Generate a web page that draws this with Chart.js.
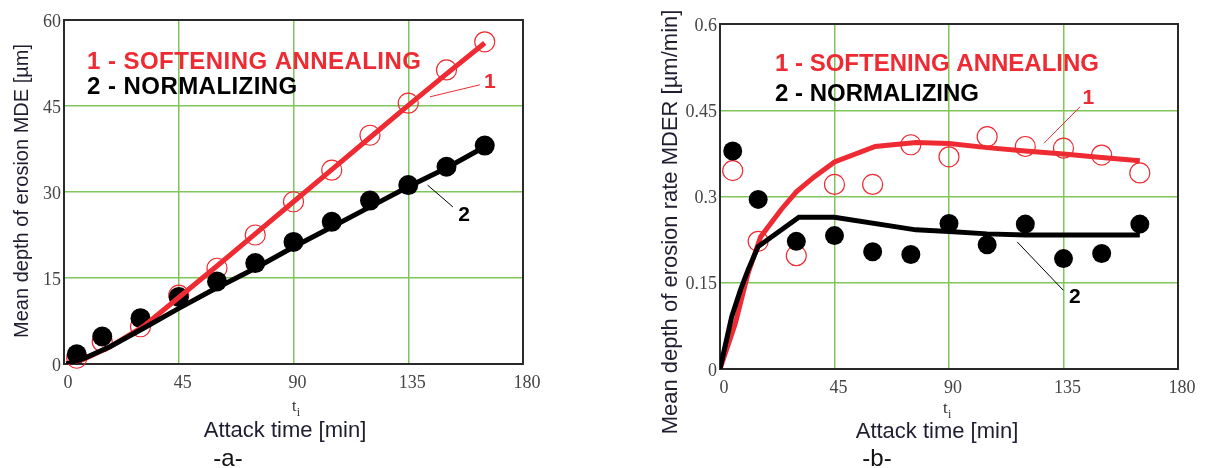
<!DOCTYPE html>
<html>
<head>
<meta charset="utf-8">
<title>Erosion MDE / MDER</title>
<script src="https://cdn.jsdelivr.net/npm/chart.js@4.4.1/dist/chart.umd.min.js"></script>
<style>
  body { margin: 0; background: #fff; width: 1208px; height: 468px; overflow: hidden; position: relative; }
  .panel { position: absolute; top: 0; width: 604px; height: 468px; }
</style>
</head>
<body>
<div class="panel" style="left:0"><canvas id="chartA" width="604" height="468"></canvas></div>
<div class="panel" style="left:604px"><canvas id="chartB" width="604" height="468"></canvas></div>
<script>
// values
const timeMin = [5, 15, 30, 45, 60, 75, 90, 105, 120, 135, 150, 165];
const xTicks = [0, 45, 90, 135, 180];

// -a- mean depth of erosion MDE [µm]
const mdeAnnealing = [1.0, 3.9, 6.5, 12.0, 16.7, 22.5, 28.3, 33.8, 39.9, 45.5, 51.3, 56.2];
const mdeNormalizing = [1.7, 4.8, 8.0, 11.7, 14.4, 17.6, 21.3, 24.8, 28.5, 31.2, 34.4, 38.1];
const mdeFitTimeAnn = [1, 8, 18, 31, 45, 60, 75, 90, 105, 120, 135, 150, 165];
const mdeFitAnn = [0, 0.9, 3.0, 6.5, 11.6, 17.1, 22.7, 28.3, 33.9, 39.5, 45.1, 50.6, 56.0];
const mdeFitTimeNorm = [1, 8, 18, 31, 45, 57, 75, 90, 105, 120, 135, 150, 165];
const mdeFitNorm = [0, 1.0, 3.0, 6.2, 9.7, 12.6, 16.7, 20.4, 23.9, 27.4, 30.9, 34.2, 37.9];
const mdeTicks = [0, 15, 30, 45, 60];

// -b- mean depth of erosion rate MDER [µm/min]
const mderAnnealing = [0.345, 0.222, 0.197, 0.321, 0.321, 0.390, 0.369, 0.404, 0.387, 0.384, 0.372, 0.341];
const mderNormalizing = [0.379, 0.295, 0.222, 0.232, 0.204, 0.199, 0.253, 0.216, 0.252, 0.192, 0.201, 0.252];
const mderFitTimeAnn = [0, 6, 11, 16, 24, 30, 37, 45, 61, 77, 90, 105, 120, 135, 150, 165];
const mderFitAnn = [0, 0.079, 0.166, 0.23, 0.277, 0.308, 0.334, 0.36, 0.387, 0.394, 0.392, 0.385, 0.379, 0.374, 0.368, 0.362];
const mderFitTimeNorm = [0, 4.6, 8, 11, 15, 31, 45, 77, 90, 105, 120, 165];
const mderFitNorm = [0, 0.091, 0.137, 0.172, 0.213, 0.264, 0.264, 0.242, 0.239, 0.235, 0.233, 0.233];
const mderTicks = [0, 0.15, 0.3, 0.45, 0.6];

const seriesNames = ["1 - SOFTENING ANNEALING", "2 - NORMALIZING"];

const RED = "#ee2a32";
const BLACK = "#000000";
const GRID = "#80c55a";
const SANS = "'Liberation Sans', Arial, sans-serif";
const SERIF = "'Liberation Serif', 'Times New Roman', serif";

function pts(xs, ys) {
  return xs.map((x, i) => ({ x, y: ys[i] }));
}

// frame + free text (legend, callouts, axis titles)
const decorPlugin = {
  id: "decor",
  beforeDatasetsDraw(chart) {
    const a = chart.chartArea;
    const ctx = chart.ctx;
    ctx.save();
    ctx.strokeStyle = "#2a2a2a";
    ctx.lineWidth = 2;
    ctx.strokeRect(a.left, a.top, a.right - a.left, a.bottom - a.top);
    ctx.restore();
  },
  afterDraw(chart, args, o) {
    const ctx = chart.ctx;
    const sx = chart.scales.x;
    const sy = chart.scales.y;
    ctx.save();

    // legend lines
    ctx.font = `bold 24px ${SANS}`;
    ctx.textAlign = "left";
    ctx.textBaseline = "alphabetic";
    ctx.letterSpacing = o.legend.spacing;
    seriesNames.forEach((txt, i) => {
      ctx.fillStyle = i === 0 ? RED : BLACK;
      ctx.fillText(txt, o.legend.x, o.legend.y[i]);
    });
    ctx.letterSpacing = "0px";

    // numbered callouts
    o.callouts.forEach((c) => {
      ctx.strokeStyle = c.color;
      ctx.lineWidth = 1;
      ctx.beginPath();
      ctx.moveTo(sx.getPixelForValue(c.from[0]), sy.getPixelForValue(c.from[1]));
      ctx.lineTo(sx.getPixelForValue(c.to[0]), sy.getPixelForValue(c.to[1]));
      ctx.stroke();
      ctx.font = `bold 21px ${SANS}`;
      ctx.fillStyle = c.color;
      ctx.textAlign = "center";
      ctx.textBaseline = "middle";
      ctx.fillText(c.label, sx.getPixelForValue(c.at[0]), sy.getPixelForValue(c.at[1]));
    });

    // y title
    ctx.fillStyle = "#1e1e30";
    ctx.save();
    ctx.translate(o.yTitle.x, o.yTitle.y);
    ctx.rotate(-Math.PI / 2);
    ctx.font = `${o.yTitle.size}px ${SANS}`;
    ctx.textAlign = "center";
    ctx.textBaseline = "alphabetic";
    ctx.fillText(o.yTitle.text, 0, 0);
    ctx.restore();

    // x variable t_i
    ctx.textAlign = "left";
    ctx.textBaseline = "alphabetic";
    ctx.fillStyle = "#333";
    ctx.font = `${o.ti.size}px ${SERIF}`;
    ctx.fillText("t", o.ti.x, o.ti.y);
    ctx.font = `${Math.round(o.ti.size * 0.72)}px ${SERIF}`;
    ctx.fillText("i", o.ti.x + o.ti.size * 0.3, o.ti.y + o.ti.size * 0.3);

    // x title
    ctx.fillStyle = "#1e1e30";
    ctx.font = `22px ${SANS}`;
    ctx.textAlign = "center";
    ctx.fillText("Attack time [min]", o.xTitle.x, o.xTitle.y);

    // panel tag
    ctx.fillStyle = "#111";
    ctx.font = `24px ${SANS}`;
    ctx.fillText(o.tag.text, o.tag.x, o.tag.y);

    ctx.restore();
  }
};

function makeChart(id, cfg) {
  return new Chart(document.getElementById(id), {
    type: "scatter",
    data: {
      datasets: [
        {
          data: pts(cfg.fitTimeNorm, cfg.fitNorm),
          showLine: true, borderColor: BLACK, borderWidth: 5,
          pointRadius: 0, tension: 0
        },
        {
          data: pts(cfg.fitTimeAnn, cfg.fitAnn),
          showLine: true, borderColor: RED, borderWidth: 5,
          pointRadius: 0, tension: 0
        },
        {
          data: pts(timeMin, cfg.norm),
          pointRadius: cfg.dotR, pointBackgroundColor: BLACK, pointBorderColor: BLACK,
          pointBorderWidth: 0, clip: false
        },
        {
          data: pts(timeMin, cfg.ann),
          pointRadius: 10, pointBackgroundColor: "rgba(0,0,0,0)", pointBorderColor: RED,
          pointBorderWidth: 1.2, clip: false
        }
      ]
    },
    options: {
      responsive: false,
      animation: false,
      events: [],
      layout: { padding: cfg.padding },
      plugins: {
        legend: { display: false },
        tooltip: { enabled: false },
        decor: cfg.decor
      },
      scales: {
        x: {
          type: "linear", min: 0, max: 180,
          afterFit: (s) => { s.height = cfg.xAxisH; },
          afterBuildTicks: (s) => { s.ticks = xTicks.map((v) => ({ value: v })); },
          border: { display: false },
          grid: { color: GRID, lineWidth: 1.5, drawTicks: false },
          ticks: {
            color: "#444", padding: 8, labelOffset: 4, maxRotation: 0,
            font: { family: SERIF, size: 18 },
            callback: (v) => String(v)
          }
        },
        y: {
          type: "linear", min: 0, max: cfg.yMax,
          afterFit: (s) => { s.width = cfg.yAxisW; },
          afterBuildTicks: (s) => { s.ticks = cfg.yTicks.map((v) => ({ value: v })); },
          border: { display: false },
          grid: { color: GRID, lineWidth: 1.5, drawTicks: false },
          ticks: {
            color: "#444", padding: 3, labelOffset: 2,
            font: { family: SERIF, size: 18 },
            callback: (v) => String(+Number(v).toFixed(2))
          }
        }
      }
    },
    plugins: [decorPlugin]
  });
}

makeChart("chartA", {
  ann: mdeAnnealing, norm: mdeNormalizing,
  fitTimeAnn: mdeFitTimeAnn, fitAnn: mdeFitAnn,
  fitTimeNorm: mdeFitTimeNorm, fitNorm: mdeFitNorm,
  yMax: 60, yTicks: mdeTicks, dotR: 10,
  padding: { left: 0, top: 20, right: 81, bottom: 0 },
  yAxisW: 64, xAxisH: 104,
  decor: {
    legend: { x: 87, y: [69, 94], spacing: "0.45px" },
    callouts: [
      { label: "1", color: RED, from: [143.5, 46.6], to: [163.1, 48.7], at: [167, 49.2] },
      { label: "2", color: BLACK, from: [142.6, 31.2], to: [152.5, 27.4], at: [156.9, 26.0] }
    ],
    yTitle: { text: "Mean depth of erosion MDE [µm]", x: 28, y: 191, size: 20 },
    xTitle: { x: 285, y: 437 },
    ti: { x: 292, y: 411, size: 16 },
    tag: { text: "-a-", x: 228, y: 466 }
  }
});

makeChart("chartB", {
  ann: mderAnnealing, norm: mderNormalizing,
  fitTimeAnn: mderFitTimeAnn, fitAnn: mderFitAnn,
  fitTimeNorm: mderFitTimeNorm, fitNorm: mderFitNorm,
  yMax: 0.6, yTicks: mderTicks, dotR: 9.5,
  padding: { left: 0, top: 24, right: 30, bottom: 0 },
  yAxisW: 116, xAxisH: 99,
  decor: {
    legend: { x: 171, y: [71, 101], spacing: "0px" },
    callouts: [
      { label: "1", color: RED, from: [127.3, 0.3925], to: [141.5, 0.456], at: [144.8, 0.471] },
      { label: "2", color: BLACK, from: [116.8, 0.221], to: [134.9, 0.137], at: [139.5, 0.124] }
    ],
    yTitle: { text: "Mean depth of erosion rate MDER [µm/min]", x: 73, y: 222, size: 22 },
    xTitle: { x: 333, y: 438 },
    ti: { x: 339, y: 413, size: 17 },
    tag: { text: "-b-", x: 273, y: 466 }
  }
});
</script>
</body>
</html>
